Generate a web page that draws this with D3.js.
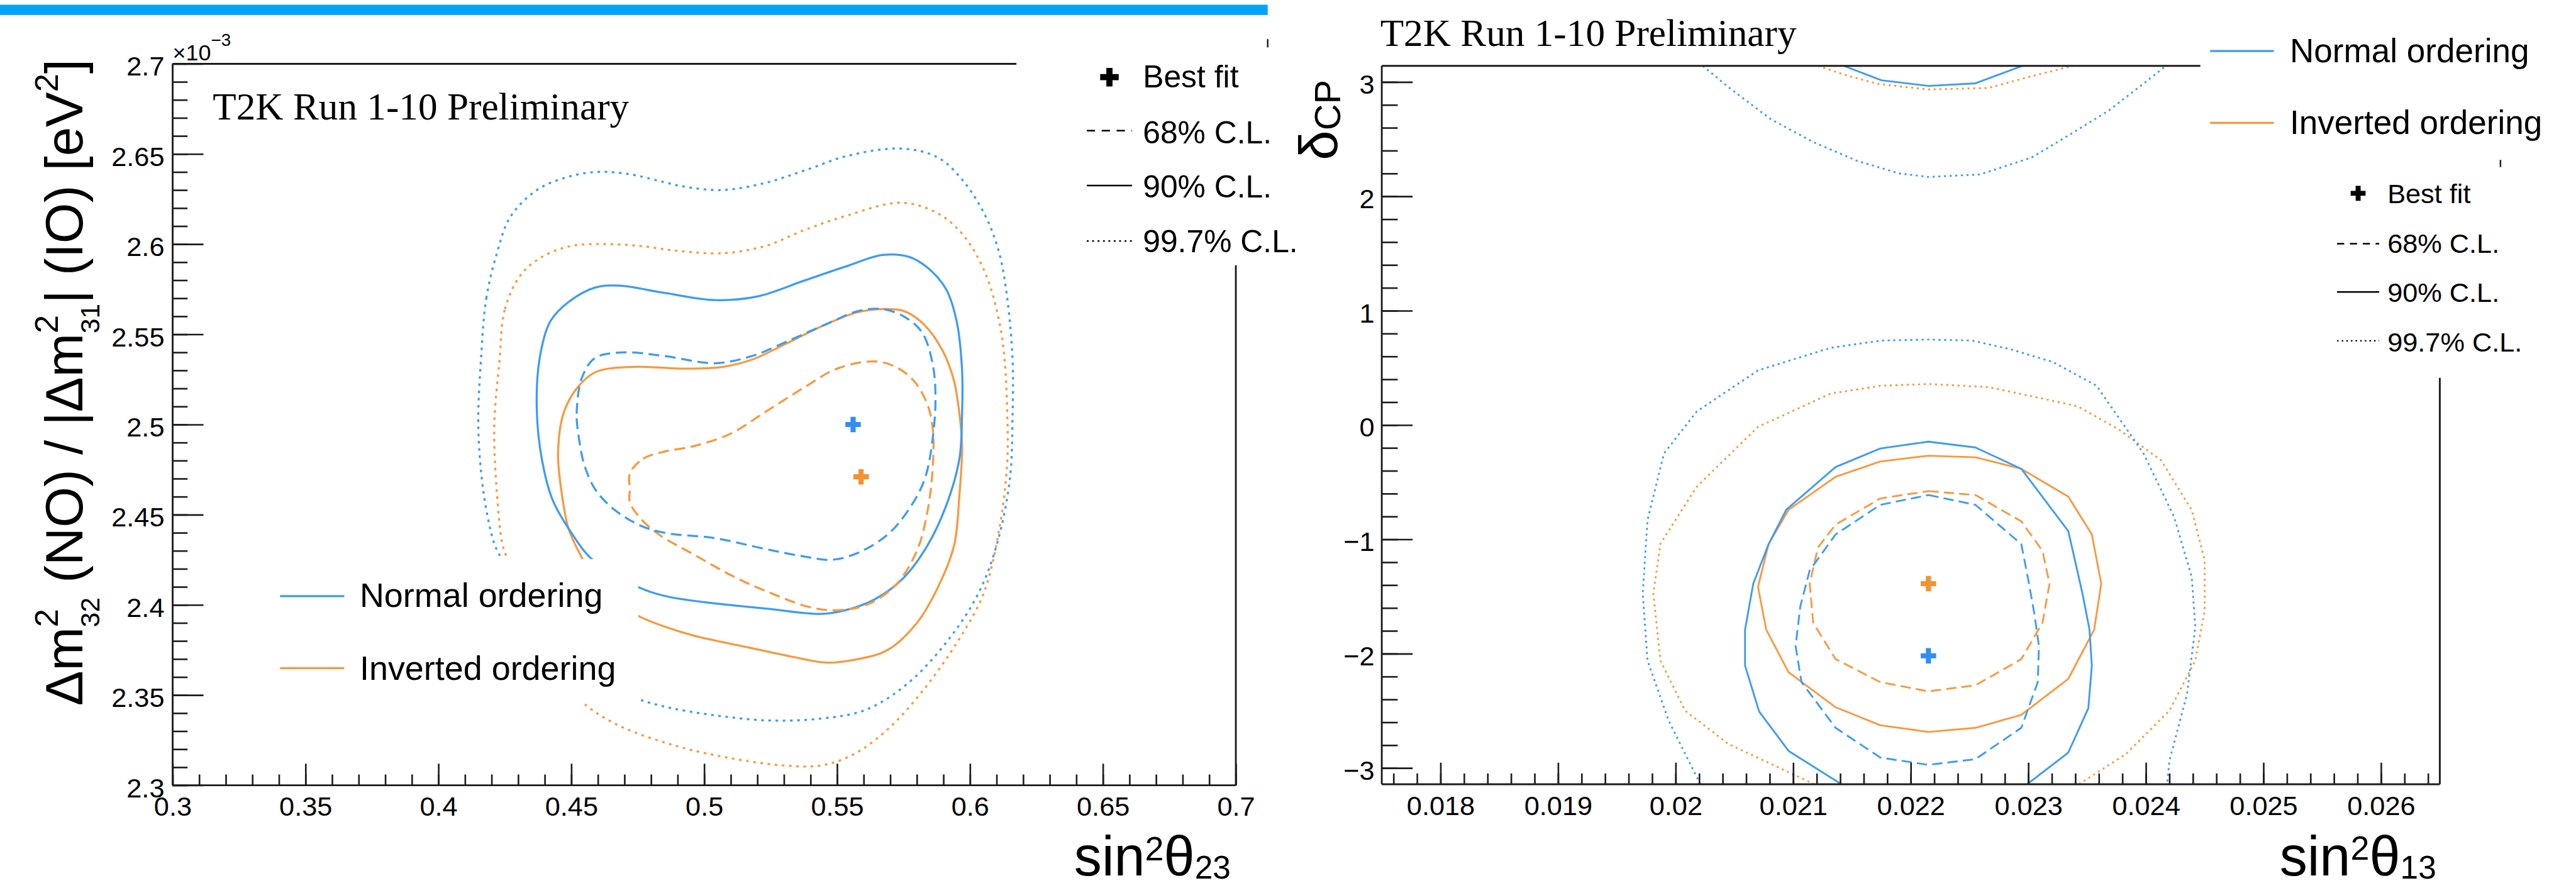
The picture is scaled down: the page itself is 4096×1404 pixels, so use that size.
<!DOCTYPE html>
<html>
<head>
<meta charset="utf-8">
<script src="https://cdn.jsdelivr.net/npm/d3@7"></script>
<style>
  html, body { margin: 0; padding: 0; background: #fff; overflow: hidden; }
  text { white-space: pre; }
</style>
</head>
<body>
<svg id="chart" width="4096" height="1404" viewBox="0 0 5013 1718"></svg>
<script>
// ---------------- data: sin^2(theta23) vs dm^2 (units of 1e-3 eV^2) ----------------
const th23TickValues = [0.3, 0.35, 0.4, 0.45, 0.5, 0.55, 0.6, 0.65, 0.7];
const th23TickLabels = ["0.3", "0.35", "0.4", "0.45", "0.5", "0.55", "0.6", "0.65", "0.7"];
const dm2TickValues = [2.3, 2.35, 2.4, 2.45, 2.5, 2.55, 2.6, 2.65, 2.7];
const dm2TickLabels = ["2.3", "2.35", "2.4", "2.45", "2.5", "2.55", "2.6", "2.65", "2.7"];

const th23BestNO = [0.556, 2.500];
const th23BestIO = [0.559, 2.471];

const th23NO68 = [[0.453,2.491],[0.452,2.506],[0.454,2.526],[0.459,2.537],[0.470,2.540],[0.485,2.538],[0.504,2.534],[0.518,2.538],[0.531,2.546],[0.548,2.557],[0.558,2.563],[0.567,2.564],[0.575,2.560],[0.582,2.551],[0.586,2.533],[0.587,2.515],[0.586,2.493],[0.583,2.470],[0.577,2.453],[0.569,2.439],[0.558,2.429],[0.548,2.425],[0.537,2.427],[0.523,2.431],[0.504,2.437],[0.485,2.440],[0.476,2.444],[0.466,2.453],[0.459,2.464],[0.455,2.477]];
const th23NO90 = [[0.449,2.568],[0.459,2.576],[0.468,2.577],[0.485,2.573],[0.504,2.569],[0.520,2.571],[0.538,2.580],[0.554,2.588],[0.567,2.594],[0.577,2.593],[0.584,2.587],[0.591,2.575],[0.595,2.557],[0.597,2.530],[0.597,2.506],[0.596,2.481],[0.591,2.455],[0.584,2.433],[0.575,2.415],[0.564,2.403],[0.553,2.397],[0.544,2.395],[0.523,2.398],[0.503,2.401],[0.485,2.405],[0.475,2.410],[0.458,2.425],[0.450,2.440],[0.443,2.458],[0.439,2.480],[0.437,2.508],[0.438,2.536],[0.442,2.557]];
const th23NO997 = [[0.416,2.536],[0.418,2.570],[0.422,2.595],[0.427,2.615],[0.437,2.630],[0.448,2.637],[0.459,2.640],[0.471,2.639],[0.486,2.634],[0.492,2.632],[0.507,2.630],[0.523,2.634],[0.538,2.641],[0.554,2.649],[0.574,2.653],[0.588,2.648],[0.598,2.634],[0.606,2.615],[0.611,2.595],[0.614,2.570],[0.616,2.536],[0.616,2.506],[0.615,2.470],[0.610,2.433],[0.603,2.406],[0.592,2.381],[0.577,2.357],[0.561,2.342],[0.544,2.337],[0.523,2.336],[0.503,2.339],[0.487,2.343],[0.475,2.348],[0.461,2.359],[0.448,2.376],[0.434,2.399],[0.424,2.425],[0.421,2.434],[0.417,2.462],[0.415,2.499]];
const th23IO68 = [[0.472,2.473],[0.477,2.481],[0.485,2.485],[0.496,2.488],[0.510,2.495],[0.523,2.507],[0.537,2.520],[0.550,2.531],[0.564,2.535],[0.572,2.532],[0.579,2.524],[0.584,2.511],[0.586,2.497],[0.586,2.477],[0.584,2.452],[0.580,2.430],[0.572,2.411],[0.561,2.400],[0.549,2.397],[0.539,2.399],[0.526,2.406],[0.512,2.415],[0.496,2.428],[0.483,2.439],[0.476,2.448],[0.472,2.457],[0.472,2.464]];
const th23IO90 = [[0.447,2.506],[0.452,2.520],[0.459,2.529],[0.473,2.532],[0.493,2.531],[0.507,2.532],[0.518,2.536],[0.531,2.545],[0.545,2.555],[0.557,2.562],[0.567,2.564],[0.575,2.563],[0.583,2.555],[0.590,2.540],[0.594,2.524],[0.596,2.506],[0.597,2.488],[0.596,2.461],[0.594,2.433],[0.588,2.410],[0.580,2.390],[0.569,2.375],[0.558,2.370],[0.546,2.368],[0.534,2.371],[0.518,2.376],[0.496,2.383],[0.485,2.388],[0.475,2.394],[0.467,2.401],[0.459,2.411],[0.454,2.426],[0.449,2.442],[0.446,2.466],[0.445,2.484]];
const th23IO997 = [[0.423,2.536],[0.425,2.564],[0.431,2.583],[0.439,2.593],[0.450,2.599],[0.463,2.600],[0.476,2.599],[0.486,2.597],[0.492,2.596],[0.507,2.595],[0.523,2.599],[0.538,2.608],[0.554,2.616],[0.574,2.623],[0.588,2.617],[0.598,2.604],[0.606,2.583],[0.611,2.557],[0.613,2.536],[0.614,2.506],[0.614,2.479],[0.611,2.442],[0.605,2.406],[0.595,2.379],[0.582,2.352],[0.569,2.331],[0.556,2.317],[0.544,2.311],[0.530,2.311],[0.510,2.315],[0.489,2.322],[0.468,2.333],[0.455,2.345],[0.448,2.356],[0.440,2.376],[0.432,2.399],[0.426,2.425],[0.424,2.434],[0.422,2.462],[0.421,2.499]];

// ---------------- data: sin^2(theta13) vs delta_CP ----------------
const th13TickValues = [0.018, 0.019, 0.020, 0.021, 0.022, 0.023, 0.024, 0.025, 0.026];
const th13TickLabels = ["0.018", "0.019", "0.02", "0.021", "0.022", "0.023", "0.024", "0.025", "0.026"];
const dcpTickValues = [-3, -2, -1, 0, 1, 2, 3];
const dcpTickLabels = ["\u22123", "\u22122", "\u22121", "0", "1", "2", "3"];

const th13BestNO = [0.02215, -2.018];
const th13BestIO = [0.02215, -1.387];

const th13NO68 = [[0.02215,-0.612],[0.02255,-0.698],[0.02294,-1.042],[0.02300,-1.357],[0.02305,-1.645],[0.02309,-1.933],[0.02308,-2.248],[0.02294,-2.648],[0.02255,-2.922],[0.02215,-2.972],[0.02174,-2.908],[0.02136,-2.648],[0.02107,-2.248],[0.02102,-1.933],[0.02106,-1.586],[0.02114,-1.271],[0.02136,-0.957],[0.02174,-0.698]];
const th13NO90 = [[0.02141,-3.1416],[0.02096,-2.850],[0.02071,-2.506],[0.02059,-2.104],[0.02059,-1.789],[0.02066,-1.387],[0.02079,-1.042],[0.02094,-0.741],[0.02136,-0.367],[0.02174,-0.205],[0.02215,-0.145],[0.02255,-0.196],[0.02294,-0.383],[0.02334,-0.928],[0.02346,-1.473],[0.02352,-1.789],[0.02354,-2.104],[0.02351,-2.477],[0.02334,-2.864],[0.02299,-3.1416]];
const th13NO90Top = [[0.02143,3.1416],[0.02175,3.016],[0.02215,2.966],[0.02255,2.989],[0.02295,3.1416]];
const th13NO997 = [[0.02021,-3.1416],[0.01994,-2.585],[0.01976,-2.059],[0.01972,-1.476],[0.01976,-0.833],[0.01990,-0.249],[0.02018,0.119],[0.02070,0.478],[0.02132,0.676],[0.02175,0.739],[0.02215,0.748],[0.02252,0.739],[0.02284,0.665],[0.02321,0.551],[0.02358,0.344],[0.02398,-0.249],[0.02424,-0.804],[0.02439,-1.330],[0.02442,-1.766],[0.02435,-2.351],[0.02420,-2.936],[0.02418,-3.1416]];
const th13NO997Top = [[0.02023,3.1416],[0.02045,2.954],[0.02081,2.674],[0.02118,2.471],[0.02154,2.312],[0.02190,2.201],[0.02215,2.170],[0.02259,2.192],[0.02303,2.341],[0.02340,2.570],[0.02369,2.755],[0.02395,2.962],[0.02417,3.1416]];
const th13IO68 = [[0.02215,-0.578],[0.02255,-0.612],[0.02294,-0.842],[0.02312,-1.100],[0.02318,-1.387],[0.02312,-1.730],[0.02294,-2.047],[0.02255,-2.276],[0.02215,-2.329],[0.02174,-2.248],[0.02136,-2.047],[0.02117,-1.730],[0.02114,-1.387],[0.02121,-1.071],[0.02136,-0.871],[0.02174,-0.642]];
const th13IO90 = [[0.02215,-0.268],[0.02255,-0.282],[0.02294,-0.383],[0.02334,-0.627],[0.02354,-0.957],[0.02362,-1.387],[0.02356,-1.789],[0.02334,-2.219],[0.02294,-2.535],[0.02255,-2.648],[0.02215,-2.684],[0.02174,-2.625],[0.02136,-2.468],[0.02096,-2.162],[0.02077,-1.789],[0.02070,-1.415],[0.02079,-1.042],[0.02096,-0.741],[0.02136,-0.453],[0.02174,-0.319]];
const th13IO997 = [[0.02118,-3.1416],[0.02045,-2.790],[0.02008,-2.498],[0.01987,-2.060],[0.01981,-1.476],[0.01987,-1.037],[0.02018,-0.538],[0.02070,-0.016],[0.02132,0.276],[0.02175,0.344],[0.02215,0.359],[0.02266,0.332],[0.02303,0.252],[0.02342,0.164],[0.02377,-0.039],[0.02413,-0.309],[0.02439,-0.745],[0.02450,-1.184],[0.02450,-1.622],[0.02442,-2.059],[0.02420,-2.498],[0.02383,-2.877],[0.02343,-3.1416]];
const th13IO997Top = [[0.02121,3.1416],[0.02146,3.056],[0.02172,2.984],[0.02215,2.935],[0.02266,2.948],[0.02303,3.052],[0.02338,3.1416]];

const orderingNames = ["Normal ordering", "Inverted ordering"];
const levelNames = ["Best fit", "68% C.L.", "90% C.L.", "99.7% C.L."];

// ---------------- styles ----------------
const SANS = "'Liberation Sans', Arial, Helvetica, sans-serif";
const SERIF = "'Liberation Serif', 'Times New Roman', serif";
const INK = "#1c1c1c";
const BLUE = "#3d9bf3";
const ORANGE = "#f7993f";
const BLUE_MK = "#2f8ff2";
const ORANGE_MK = "#f39332";

const svg = d3.select("#chart");
svg.append("rect").attr("width", 5013).attr("height", 1718).attr("fill", "#fff");

// header bar
svg.append("rect").attr("x", 0).attr("y", 9).attr("width", 2467).attr("height", 20).attr("fill", "#00a3ff");

function richText(parent, parts, opts) {
  const t = parent.append("text")
    .attr("transform", opts.transform)
    .attr("text-anchor", opts.anchor || "start")
    .attr("font-family", opts.family || SANS)
    .attr("fill", "#000");
  let prev = 0;
  parts.forEach(p => {
    const ts = t.append("tspan").attr("font-size", p.size).text(p.text);
    const shift = p.shift || 0;
    if (shift !== prev) ts.attr("dy", shift - prev);
    if (p.dx) ts.attr("dx", p.dx);
    prev = shift;
  });
  return t;
}

function drawAxes(g, x, y, cfg) {
  const [x0, x1] = x.range();
  const [y0, y1] = y.range(); // y0 bottom, y1 top
  // minor ticks
  g.append("g").attr("transform", `translate(0,${y0})`)
    .call(d3.axisBottom(x).tickValues(cfg.xMinor).tickSize(-cfg.xMinorLen).tickFormat(""))
    .call(s => s.select(".domain").remove());
  g.append("g").attr("transform", `translate(${x0},0)`)
    .call(d3.axisLeft(y).tickValues(cfg.yMinor).tickSize(-cfg.yMinorLen).tickFormat(""))
    .call(s => s.select(".domain").remove());
  // major ticks with labels
  g.append("g").attr("transform", `translate(0,${y0})`)
    .call(d3.axisBottom(x).tickValues(cfg.xMajor).tickSize(-cfg.xMajorLen).tickPadding(22)
      .tickFormat((d, i) => cfg.xLabels[i]))
    .call(s => s.select(".domain").remove())
    .call(s => s.selectAll("text").attr("font-size", 53).attr("font-family", SANS).attr("fill", "#000"));
  g.append("g").attr("transform", `translate(${x0},0)`)
    .call(d3.axisLeft(y).tickValues(cfg.yMajor).tickSize(-cfg.yMajorLen).tickPadding(cfg.yPad)
      .tickFormat((d, i) => cfg.yLabels[i]))
    .call(s => s.select(".domain").remove())
    .call(s => s.selectAll("text").attr("font-size", 53).attr("font-family", SANS).attr("fill", "#000").attr("dy", cfg.yDy));
  g.selectAll(".tick line").attr("stroke", INK).attr("stroke-width", 3.2);
  // frame
  const frame = g.append("g").attr("stroke", INK).attr("stroke-width", 3.5).attr("fill", "none");
  frame.append("line").attr("x1", x0).attr("x2", x1).attr("y1", y0).attr("y2", y0);
  frame.append("line").attr("x1", x0).attr("x2", x0).attr("y1", y0).attr("y2", y1);
  frame.append("line").attr("x1", x0).attr("x2", cfg.topEnd).attr("y1", y1).attr("y2", y1);
  frame.append("line").attr("x1", x1).attr("x2", x1).attr("y1", cfg.rightStart).attr("y2", y0);
}

function drawContours(g, x, y, list, clipId, smooth) {
  const [x0, x1] = x.range();
  const [y0, y1] = y.range();
  svg.append("clipPath").attr("id", clipId).append("rect")
    .attr("x", x0).attr("y", y1).attr("width", x1 - x0).attr("height", y0 - y1);
  const cg = g.append("g").attr("clip-path", `url(#${clipId})`);
  list.forEach(c => {
    const curve = smooth ? d3.curveCatmullRomClosed.alpha(0.5) : (c.closed ? d3.curveLinearClosed : d3.curveLinear);
    const line = d3.line().x(d => x(d[0])).y(d => y(d[1])).curve(curve);
    cg.append("path").attr("d", line(c.pts))
      .attr("fill", "none").attr("stroke", c.color).attr("stroke-width", c.width)
      .attr("stroke-dasharray", c.dash || null).attr("stroke-linejoin", "round");
  });
}

function bestFit(g, x, y, pt, color, size) {
  g.append("path").attr("d", d3.symbol(d3.symbolCross, size)())
    .attr("transform", `translate(${x(pt[0])},${y(pt[1])})`).attr("fill", color);
}

function levelLegend(g, cfg) {
  // cross + three line styles
  g.append("path").attr("d", d3.symbol(d3.symbolCross, cfg.crossSize)())
    .attr("transform", `translate(${cfg.crossX},${cfg.rows[0]})`).attr("fill", "#000");
  const dashes = [cfg.dash, null, cfg.dot];
  dashes.forEach((dsh, i) => {
    g.append("line").attr("x1", cfg.lineX0).attr("x2", cfg.lineX1)
      .attr("y1", cfg.rows[i + 1]).attr("y2", cfg.rows[i + 1])
      .attr("stroke", "#000").attr("stroke-width", 3).attr("stroke-dasharray", dsh);
  });
  levelNames.forEach((name, i) => {
    g.append("text").attr("x", cfg.textX).attr("y", cfg.baselines[i])
      .attr("font-family", SANS).attr("font-size", cfg.fontSize).attr("fill", "#000").text(name);
  });
}

function orderingLegend(g, cfg) {
  [BLUE, ORANGE].forEach((col, i) => {
    g.append("line").attr("x1", cfg.lineX0).attr("x2", cfg.lineX1)
      .attr("y1", cfg.rows[i]).attr("y2", cfg.rows[i])
      .attr("stroke", col).attr("stroke-width", 4);
    g.append("text").attr("x", cfg.textX).attr("y", cfg.baselines[i])
      .attr("font-family", SANS).attr("font-size", cfg.fontSize).attr("fill", "#000").text(orderingNames[i]);
  });
}

// ================= left panel =================
{
  const x = d3.scaleLinear([0.3, 0.7], [336, 2405]);
  const y = d3.scaleLinear([2.3, 2.7], [1528, 124]);
  const g = svg.append("g");

  drawContours(g, x, y, [
    { pts: th23IO997, color: ORANGE, width: 4, dash: "5 9" },
    { pts: th23NO997, color: BLUE, width: 4, dash: "5 9" },
    { pts: th23IO90, color: ORANGE, width: 4 },
    { pts: th23NO90, color: BLUE, width: 4 },
    { pts: th23IO68, color: ORANGE, width: 4, dash: "21 11" },
    { pts: th23NO68, color: BLUE, width: 4, dash: "21 11" }
  ], "clipL", true);
  bestFit(g, x, y, th23BestNO, BLUE_MK, 500);
  bestFit(g, x, y, th23BestIO, ORANGE_MK, 500);

  // ordering legend box (opaque, no border)
  g.append("rect").attr("x", 480).attr("y", 1088).attr("width", 762).attr("height", 281).attr("fill", "#fff");
  orderingLegend(g, { lineX0: 545, lineX1: 670, rows: [1160, 1300], textX: 700, baselines: [1181, 1323], fontSize: 66 });

  drawAxes(g, x, y, {
    xMajor: th23TickValues, xLabels: th23TickLabels, xMinor: d3.range(0.30, 0.7001, 0.01),
    yMajor: dm2TickValues, yLabels: dm2TickLabels, yMinor: d3.range(2.30, 2.7001, 0.01),
    xMajorLen: 42, xMinorLen: 21, yMajorLen: 60, yMinorLen: 29, yPad: 16, yDy: "0.43em",
    topEnd: 1978, rightStart: 516
  });

  // confidence-level legend (top right)
  levelLegend(g, { crossX: 2159, crossSize: 720, rows: [150, 254, 361, 469], lineX0: 2115, lineX1: 2203,
    textX: 2224, baselines: [170, 279, 384, 491], fontSize: 61, dash: "16 13", dot: "3.5 7" });
  g.append("line").attr("x1", 2467).attr("x2", 2467).attr("y1", 76).attr("y2", 92).attr("stroke", INK).attr("stroke-width", 3);

  // titles
  g.append("text").attr("x", 414).attr("y", 232).attr("font-family", SERIF).attr("font-size", 75).attr("fill", "#000")
    .text("T2K Run 1-10 Preliminary");
  richText(g, [{ text: "\u00d710", size: 44 }, { text: "\u22123", size: 34, shift: -28 }], { transform: "translate(336,117)" });
  richText(g, [
    { text: "sin", size: 108 }, { text: "2", size: 66, shift: -30 }, { text: "\u03b8", size: 108 }, { text: "23", size: 63, shift: 6 }
  ], { transform: "translate(2395,1704)", anchor: "end" });
  richText(g, [
    { text: "\u0394m", size: 102 }, { text: "2", size: 64, shift: -48 }, { text: "32", size: 52, shift: 33, dx: -35.6 },
    { text: " (NO) / |\u0394m", size: 102 }, { text: "2", size: 64, shift: -48 }, { text: "31", size: 52, shift: 33, dx: -35.6 },
    { text: "| (IO) [eV", size: 102 }, { text: "2", size: 64, shift: -48 }, { text: "]", size: 102 }
  ], { transform: "translate(160,115) rotate(-90)", anchor: "end" });
}

// ================= right panel =================
{
  const x = d3.scaleLinear([0.0175, 0.0265], [2689, 4748]);
  const y = d3.scaleLinear([-Math.PI, Math.PI], [1526, 128]);
  const g = svg.append("g");

  drawContours(g, x, y, [
    { pts: th13IO997, color: ORANGE, width: 3.5, dash: "4 7" },
    { pts: th13IO997Top, color: ORANGE, width: 3.5, dash: "4 7" },
    { pts: th13NO997, color: BLUE, width: 3.5, dash: "4 7" },
    { pts: th13NO997Top, color: BLUE, width: 3.5, dash: "4 7" },
    { pts: th13IO90, color: ORANGE, width: 3.5, closed: true },
    { pts: th13NO90, color: BLUE, width: 3.5 },
    { pts: th13NO90Top, color: BLUE, width: 3.5 },
    { pts: th13IO68, color: ORANGE, width: 3.5, dash: "20 10", closed: true },
    { pts: th13NO68, color: BLUE, width: 3.5, dash: "20 10", closed: true }
  ], "clipR", false);
  bestFit(g, x, y, th13BestNO, BLUE_MK, 500);
  bestFit(g, x, y, th13BestIO, ORANGE_MK, 500);

  drawAxes(g, x, y, {
    xMajor: th13TickValues, xLabels: th13TickLabels, xMinor: d3.range(0.0176, 0.02641, 0.0002),
    yMajor: dcpTickValues, yLabels: dcpTickLabels, yMinor: d3.range(-3.0, 3.001, 0.2),
    xMajorLen: 42, xMinorLen: 21, yMajorLen: 60, yMinorLen: 31, yPad: 14, yDy: "0.42em",
    topEnd: 4282, rightStart: 735
  });

  orderingLegend(g, { lineX0: 4301, lineX1: 4425, rows: [99, 239], textX: 4456, baselines: [121, 261], fontSize: 65 });
  levelLegend(g, { crossX: 4589, crossSize: 467, rows: [376, 474, 568, 663], lineX0: 4548, lineX1: 4630,
    textX: 4646, baselines: [395, 492, 587, 684], fontSize: 53, dash: "14 11", dot: "3 6" });
  g.append("line").attr("x1", 4866).attr("x2", 4866).attr("y1", 311).attr("y2", 325).attr("stroke", INK).attr("stroke-width", 3);

  g.append("text").attr("x", 2686).attr("y", 89).attr("font-family", SERIF).attr("font-size", 75).attr("fill", "#000")
    .text("T2K Run 1-10 Preliminary");
  richText(g, [
    { text: "sin", size: 108 }, { text: "2", size: 66, shift: -30 }, { text: "\u03b8", size: 108 }, { text: "13", size: 63, shift: 6 }
  ], { transform: "translate(4741,1703)", anchor: "end" });
  richText(g, [{ text: "\u03b4", size: 104 }, { text: "CP", size: 71, shift: 6 }],
    { transform: "translate(2602,155) rotate(-90)", anchor: "end" });
}
</script>
</body>
</html>
